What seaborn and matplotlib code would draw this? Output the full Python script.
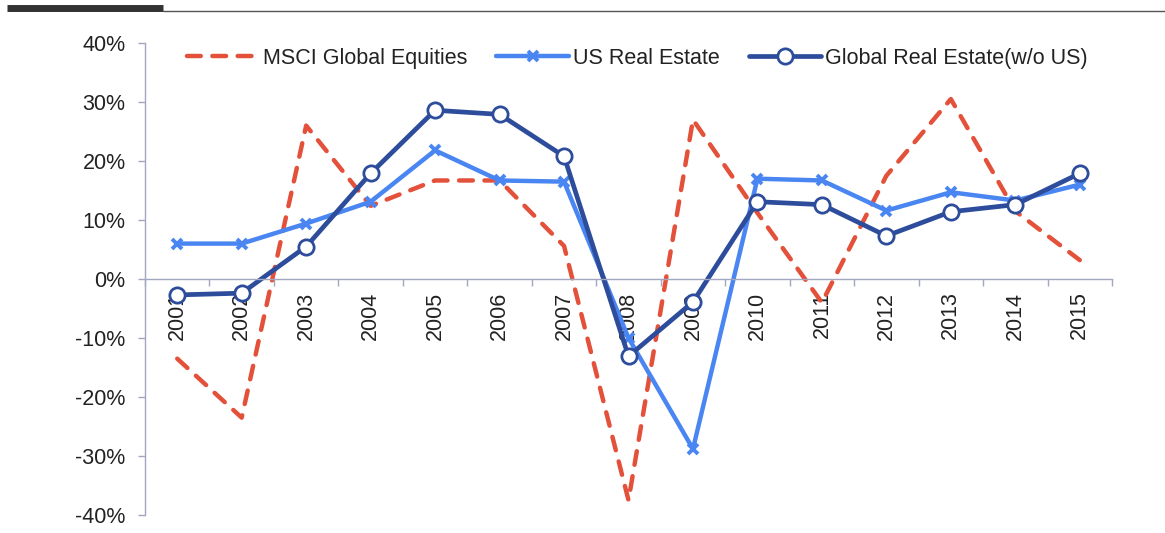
import matplotlib
matplotlib.use("Agg")
import matplotlib.pyplot as plt
from matplotlib.lines import Line2D
from matplotlib.ticker import PercentFormatter, FixedLocator, NullFormatter, FixedFormatter
import seaborn as sns
import pandas as pd

years = ["2001", "2002", "2003", "2004", "2005", "2006", "2007", "2008",
         "2009", "2010", "2011", "2012", "2013", "2014", "2015"]
msci_global_equities = [-13.5, -23.5, 26.0, 12.4, 16.7, 16.7, 5.6, -37.5,
                        27.0, 11.2, -4.0, 17.5, 30.5, 11.5, 3.2]
us_real_estate = [6.0, 6.0, 9.4, 13.1, 21.8, 16.7, 16.5, -10.0,
                  -28.8, 17.0, 16.7, 11.6, 14.7, 13.3, 16.0]
global_real_estate_ex_us = [-2.7, -2.4, 5.5, 17.9, 28.6, 27.9, 20.8, -13.1,
                            -3.9, 13.1, 12.6, 7.3, 11.4, 12.6, 17.9]

series_names = ["MSCI Global Equities", "US Real Estate", "Global Real Estate(w/o US)"]

sns.set_theme(style="white")
plt.rcParams["font.family"] = ["Liberation Sans", "DejaVu Sans"]
plt.rcParams["axes.unicode_minus"] = False

red = "#e4513b"
light_blue = "#4a86f2"
dark_blue = "#2d4d9c"
axis_grey = "#a3a6bf"
text_col = "#222222"
fs = 15.5

pos = list(range(len(years)))
df = pd.DataFrame({"pos": pos,
                   series_names[0]: msci_global_equities,
                   series_names[1]: us_real_estate,
                   series_names[2]: global_real_estate_ex_us})

fig = plt.figure(figsize=(11.65, 5.33), dpi=100)
ax = fig.add_axes([145 / 1165, 1 - 515 / 533, (1112 - 145) / 1165, (515 - 43) / 533])

sns.lineplot(data=df, x="pos", y=series_names[0], ax=ax, color=red, linewidth=3.2,
             label=series_names[0], linestyle=(0, (3.1, 2.6)), dash_capstyle="round")
sns.lineplot(data=df, x="pos", y=series_names[1], ax=ax, color=light_blue, linewidth=3.2,
             marker="x", markersize=7, markeredgewidth=2.8, markeredgecolor=light_blue,
             label=series_names[1])
sns.lineplot(data=df, x="pos", y=series_names[2], ax=ax, color=dark_blue, linewidth=3.4,
             marker="o", markersize=11, markerfacecolor="white", markeredgewidth=2,
             markeredgecolor=dark_blue, label=series_names[2])

ax.set_xlim(-0.5, len(years) - 0.5)
ax.set_ylim(-40, 40)
ax.set_xlabel("")
ax.set_ylabel("")

# y axis
ax.set_yticks(range(-40, 41, 10))
ax.yaxis.set_major_formatter(PercentFormatter(decimals=0))
ax.tick_params(axis="y", direction="out", length=5, width=1, color=axis_grey,
               labelsize=fs, labelcolor=text_col, pad=9, left=True)

# x axis crossing at zero; ticks between categories, labels at category centres
ax.spines["bottom"].set_position(("data", 0))
ax.xaxis.set_major_locator(FixedLocator([p - 0.5 for p in pos] + [len(years) - 0.5]))
ax.xaxis.set_major_formatter(NullFormatter())
ax.xaxis.set_minor_locator(FixedLocator(pos))
ax.xaxis.set_minor_formatter(FixedFormatter(years))
ax.tick_params(axis="x", which="major", direction="out", length=5, width=1,
               color=axis_grey, bottom=True)
ax.tick_params(axis="x", which="minor", length=0, labelsize=fs, labelcolor=text_col,
               pad=9, labelrotation=90, bottom=True)

for side in ("top", "right"):
    ax.spines[side].set_visible(False)
for side in ("left", "bottom"):
    ax.spines[side].set_color(axis_grey)
    ax.spines[side].set_linewidth(1)

leg = ax.legend(loc="center", bbox_to_anchor=(0.509, 0.968), ncol=3, frameon=False,
                fontsize=fs, handlelength=3.35, handletextpad=0.2, columnspacing=1.35,
                borderaxespad=0)
for t in leg.get_texts():
    t.set_color(text_col)

# header rule
fig.add_artist(Line2D([7 / 1165, 163 / 1165], [1 - 8 / 533, 1 - 8 / 533],
                      color="#333333", linewidth=5, solid_capstyle="butt"))
fig.add_artist(Line2D([163 / 1165, 1.0], [1 - 10.5 / 533, 1 - 10.5 / 533],
                      color="#555555", linewidth=1))

fig.savefig("out.png", dpi=100, facecolor="white")
